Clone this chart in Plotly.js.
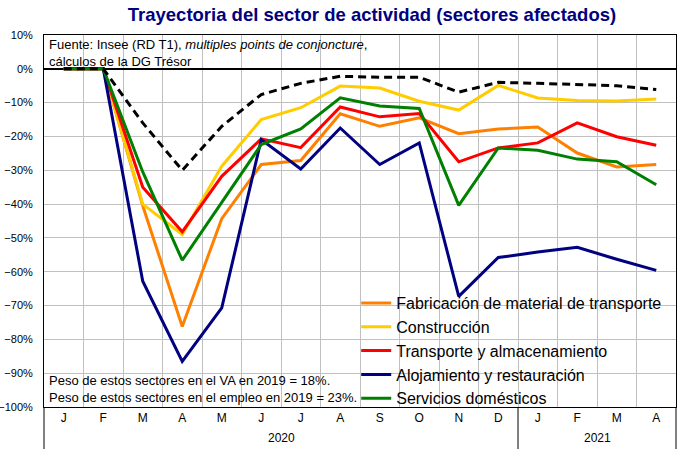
<!DOCTYPE html>
<html>
<head>
<meta charset="utf-8">
<script src="https://cdn.plot.ly/plotly-3.0.1.min.js"></script>
<style>html,body{margin:0;padding:0;background:#fff;}#chart{width:685px;height:449px;}</style>
</head>
<body>
<div id="chart"></div>
<script>
const months = ['J','F','M','A','M','J','J','A','S','O','N','D','J','F','M','A'];
const years = ['2020','2020','2020','2020','2020','2020','2020','2020','2020','2020','2020','2020','2021','2021','2021','2021'];

const seriesNames = ['Fabricación de material de transporte','Construcción','Transporte y almacenamiento','Alojamiento y restauración','Servicios domésticos'];
const fabricacion = [0,0,-40.5,-76.2,-44.3,-28.3,-27.1,-13.3,-17,-14.5,-19.2,-17.8,-17.2,-24.9,-29,-28.3];
const construccion = [0,0,-40,-49,-28.8,-15,-11.5,-5.1,-5.7,-9.6,-12.2,-4.9,-8.6,-9.4,-9.5,-8.9];
const transporte = [0,0,-35,-48.2,-31.8,-20.7,-23.3,-11.3,-14.2,-13.2,-27.5,-23.4,-21.9,-16,-20.1,-22.6];
const alojamiento = [0,0,-62.8,-86.5,-70.7,-20.9,-29.6,-17.5,-28.3,-21.9,-67.3,-55.8,-54.2,-52.8,-56.3,-59.6];
const servicios = [0,0,-30.5,-56.6,-39.5,-22.4,-17.8,-8.6,-11,-11.7,-40.4,-23.4,-24.1,-26.7,-27.5,-34.3];
const total = [0,0,-16,-30,-17,-7.6,-4.3,-2.2,-2.5,-2.5,-6.9,-4.0,-4.3,-4.6,-5.0,-6.1];

const colors = ['#FF8000','#FFCC00','#FF0000','#000080','#008000'];
const values = [fabricacion, construccion, transporte, alojamiento, servicios];
const idx = months.map((_, i) => i);

const FONT = 'Arial, "Liberation Sans", sans-serif';

const traces = values.map((v, k) => ({
  x: idx, y: v, type: 'scatter', mode: 'lines', name: seriesNames[k],
  line: {color: colors[k], width: 3}, hoverinfo: 'skip'
}));
traces.push({
  x: idx, y: total, type: 'scatter', mode: 'lines', name: 'Total',
  showlegend: false, line: {color: '#000000', width: 3, dash: '8px,5px'}, hoverinfo: 'skip'
});

// year groups
const groups = [];
years.forEach((y, i) => {
  if (!groups.length || groups[groups.length - 1].year !== y) groups.push({year: y, start: i, end: i});
  else groups[groups.length - 1].end = i;
});

const shapes = [
  // white backdrop of the legend (hides gridlines, stays under the lines)
  {type: 'rect', xref: 'paper', yref: 'paper', x0: 0.519, x1: 0.999, y0: 0.01, y1: 0.288,
   fillcolor: '#ffffff', line: {width: 0}, layer: 'between'},
  {type: 'line', xref: 'paper', yref: 'paper', x0: 0, x1: 0, y0: 0, y1: -0.12, line: {color: '#000', width: 1}},
  {type: 'line', xref: 'paper', yref: 'paper', x0: 1, x1: 1, y0: 0, y1: -0.12, line: {color: '#000', width: 1}}
];
groups.slice(1).forEach(g => {
  shapes.push({type: 'line', xref: 'x', yref: 'paper', x0: g.start - 0.5, x1: g.start - 0.5, y0: 0, y1: -0.12, line: {color: '#000', width: 1}});
});

const annotations = groups.map(g => ({
  x: (g.start + g.end) / 2, xref: 'x', y: -0.082, yref: 'paper', yanchor: 'middle',
  text: g.year, showarrow: false, font: {family: FONT, size: 12, color: '#000'}
}));
annotations.push({
  x: 0, xref: 'paper', xshift: 3, xanchor: 'left', y: 1, yref: 'paper', yanchor: 'top', yshift: 0,
  align: 'left', showarrow: false,
  text: 'Fuente: Insee (RD T1), <i>multiples points de conjoncture</i>,<br>cálculos de la DG Trésor',
  font: {family: FONT, size: 13, color: '#000'}
});
annotations.push({
  x: 0, xref: 'paper', xshift: 3, xanchor: 'left', y: 0, yref: 'paper', yanchor: 'bottom', yshift: 0,
  align: 'left', showarrow: false,
  text: 'Peso de estos sectores en el VA en 2019 = 18%.<br>Peso de estos sectores en el empleo en 2019 = 23%.',
  font: {family: FONT, size: 13, color: '#000'}
});

const layout = {
  width: 685, height: 449,
  margin: {l: 44, r: 9, t: 35, b: 42},
  paper_bgcolor: '#fff', plot_bgcolor: '#fff',
  font: {family: FONT, color: '#000'},
  title: {text: 'Trayectoria del sector de actividad (sectores afectados)', x: 0.543, xanchor: 'center', y: 0.968, yanchor: 'middle',
    font: {family: FONT, size: 18.5, color: '#000080', weight: 'bold'}},
  xaxis: {
    range: [-0.5, months.length - 0.5], tickmode: 'array', tickvals: idx, ticktext: months,
    showgrid: false, zeroline: false, showline: true, linecolor: '#000', linewidth: 1, mirror: true,
    ticks: '', tickfont: {family: FONT, size: 12, color: '#000'},
    minor: {tick0: -0.5, dtick: 1, showgrid: true, gridcolor: '#c0c0c0', gridwidth: 1, ticks: ''},
    fixedrange: true
  },
  yaxis: {
    range: [-100, 10], dtick: 10, tick0: 0, ticksuffix: '%',
    showgrid: true, gridcolor: '#c0c0c0', gridwidth: 1,
    zeroline: true, zerolinecolor: '#000', zerolinewidth: 1.5,
    showline: true, linecolor: '#000', linewidth: 1, mirror: true,
    ticks: '', ticklabelstandoff: 8, tickfont: {family: FONT, size: 11, color: '#000'},
    fixedrange: true
  },
  legend: {
    x: 0.494, xanchor: 'left', y: 0.325, yanchor: 'top', bgcolor: 'rgba(255,255,255,0)', borderwidth: 0,
    font: {family: FONT, size: 16, color: '#000'}, tracegroupgap: 0
  },
  shapes: shapes,
  annotations: annotations,
  showlegend: true
};

Plotly.newPlot('chart', traces, layout, {displayModeBar: false, staticPlot: true});
</script>
</body>
</html>
